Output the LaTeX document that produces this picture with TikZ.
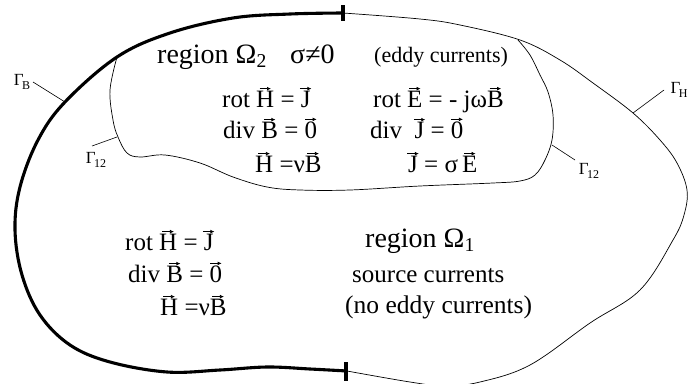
\documentclass[tikz,border=0pt]{standalone}
\usepackage{fontspec}
\setmainfont{Liberation Serif}
\usetikzlibrary{arrows.meta}
\newsavebox\vbx
\newcommand\va[1]{\leavevmode\sbox\vbx{#1}\hbox to\wd\vbx{\hss\raisebox{\dimexpr\ht\vbx+2pt\relax}{\tikz[baseline=0pt]\draw[line width=0.7pt,-{Latex[length=4pt,width=3.8pt]}] (0,0)--(0.46em,0);}\hss}\kern-\wd\vbx\usebox\vbx}
\newcommand\gsub[1]{\kern-1.5pt\raisebox{-3.5pt}{\fontsize{12}{14}\selectfont #1}}
\tikzset{
  thickb/.style={line width=3.1pt},
  thinb/.style={line width=0.7pt},
  leader/.style={line width=0.6pt},
  eq/.style={anchor=base west,inner sep=0pt,font=\fontsize{25}{30}\selectfont},
  big/.style={anchor=base west,inner sep=0pt,font=\fontsize{28}{32}\selectfont},
  mid/.style={anchor=base west,inner sep=0pt,font=\fontsize{25.5}{30}\selectfont},
  small/.style={anchor=base west,inner sep=0pt,font=\fontsize{22}{26}\selectfont},
  gam/.style={inner sep=0pt,font=\fontsize{17}{20}\selectfont},
}
\begin{document}
\begin{tikzpicture}[x=1pt,y=-1pt]
\useasboundingbox (0,0) rectangle (691,383);
\clip (0,0) rectangle (691,383);
% outer thin boundary Gamma_H
\draw[thinb] plot[smooth,tension=0.6] coordinates {(343,13) (420,19) (460,25) (520,40) (560,60) (593,83) (633,113) (660,140) (677,163) (687,190) (684,215) (673,240) (640,290) (590,323) (530,365) (480,382) (445,386) (410,382) (347,371)};
% thick boundary Gamma_B
\draw[thickb] plot[smooth,tension=0.6] coordinates {(343,13) (290,14) (233,18) (170,33) (117,57) (65,102) (38,140) (20,187) (15,230) (22,275) (40,315) (70,345) (110,362) (167,372) (220,370) (267,367) (310,369) (347,371)};
% ticks
\draw[thickb] (343,5) -- (343,21);
\draw[thickb] (346,362) -- (346,381);
% Gamma_12 interface
\draw[thinb] plot[smooth,tension=0.6] coordinates {(117,57) (110,90) (113,120) (118,137) (127,153) (140,157) (165,155) (200,163) (233,177) (267,187) (300,190) (350,190) (420,186) (493,183) (520,181) (535,175) (545,160) (552,140) (553,115) (548,92) (540,75) (530,55) (518,40)};
% labels
\node[gam] (gb) at (22,82) {Γ\gsub{B}};
\coordinate (gbp) at (65,102);
\draw[leader] (33,82) -- (gbp);
\node[gam] (g12a) at (96,160) {Γ\gsub{12}};
\coordinate (g12ap) at (117,137);
\draw[leader] (92,146) -- (g12ap);
\node[gam] (g12b) at (589,171) {Γ\gsub{12}};
\coordinate (g12bp) at (552,145);
\draw[leader] (575,160) -- (g12bp);
\node[gam] (gh) at (679,90) {Γ\gsub{H}};
\coordinate (ghp) at (633,113);
\draw[leader] (664,90) -- (ghp);
% region 2 texts
\node[big] (r2) at (157,63) {region Ω\textsubscript{2}};
\node[big] (sig) at (290,63) {σ≠0};
\node[small] (eddy) at (374,62) {(eddy currents)};
\node[eq] (a1) at (222,107) {rot \va{H} = \va{J}};
\node[eq] (a2) at (223,138) {div \va{B} = \va{0}};
\node[eq] (a3) at (255,172) {\va{H} =ν\va{B}};
\node[eq] (b1) at (373,107) {rot \va{E} = - jω\va{B}};
\node[eq] (b2) at (370,138) {div\ \ \va{J} = \va{0}};
\node[eq] (b3) at (408,172) {\va{J} = σ\,\va{E}};
% region 1 texts
\node[eq] (c1) at (125,250) {rot \va{H} = \va{J}};
\node[eq] (c2) at (128,282) {div \va{B} = \va{0}};
\node[eq] (c3) at (160,315) {\va{H} =ν\va{B}};
\node[big] (r1) at (365,247) {region Ω\textsubscript{1}};
\node[eq] (src) at (352,282) {source currents};
\node[mid] (noe) at (345,313) {(no eddy currents)};
\end{tikzpicture}
\end{document}
